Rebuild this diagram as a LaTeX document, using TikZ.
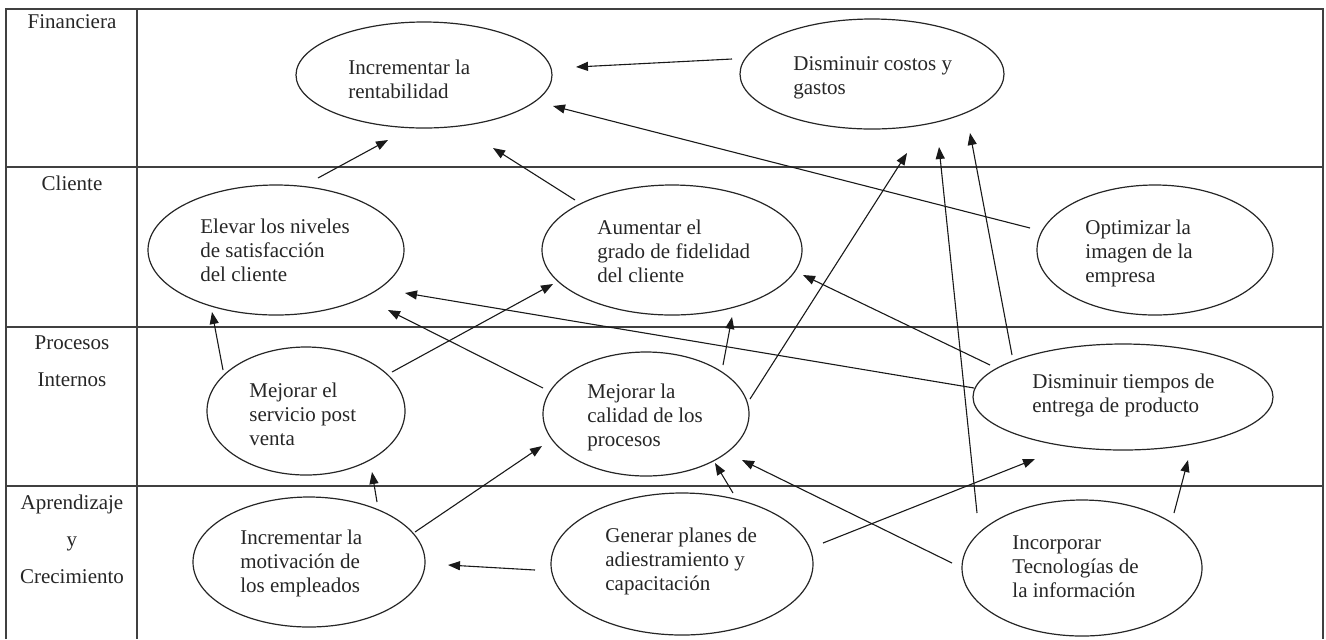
\documentclass[tikz,border=0pt]{standalone}
\usepackage{fontspec}
\setmainfont{Liberation Serif}
\usetikzlibrary{arrows.meta,calc,shapes.geometric}
\begin{document}
\begin{tikzpicture}[x=0.5pt,y=-0.5pt,
  ell/.style={draw=black!85,line width=0.6pt,ellipse,inner sep=0pt},
  txt/.style={anchor=west,align=left,inner sep=0pt,font=\fontsize{10.5}{12}\selectfont,text=black!85},
  lbl/.style={align=center,inner sep=0pt,font=\fontsize{10.5}{18.5}\selectfont,text=black!85},
  grid/.style={draw=black!75,line width=0.9pt},
  arr/.style={draw=black!90,line width=0.55pt,-{Triangle[length=6pt,width=4.5pt]}}]
\useasboundingbox (0,0) rectangle (1326,639);
% table
\coordinate (tl) at (6,9);
\coordinate (tr) at (1323,9);
\coordinate (bl) at (6,639);
\coordinate (br) at (1323,639);
\coordinate (ct) at (137,9);
\coordinate (cb) at (137,639);
\draw[grid] (bl) -- (tl) -- (tr) -- (br);
\draw[grid] (ct) -- (cb);
\foreach \yy in {167,327,486}{\draw[grid] (6,\yy) -- (1323,\yy);}
% row labels
\node[lbl] (lfin) at (72,22) {Financiera};
\node[lbl] (lcli) at (72,183) {Cliente};
\node[lbl] (lpro) at (72,361) {Procesos\\Internos};
\node[lbl] (lapr) at (72,539) {Aprendizaje\\y\\Crecimiento};
% ellipses (sizes in pt = pixels/2)
\node[ell,minimum width=128pt,minimum height=53pt] (rent) at (424,75) {};
\node[ell,minimum width=132pt,minimum height=55pt] (costos) at (872,74) {};
\node[ell,minimum width=128pt,minimum height=65pt] (elevar) at (276,250) {};
\node[ell,minimum width=130pt,minimum height=65pt] (aumentar) at (672,250) {};
\node[ell,minimum width=118pt,minimum height=65pt] (optim) at (1155,250) {};
\node[ell,minimum width=99pt,minimum height=64pt] (servicio) at (306,411) {};
\node[ell,minimum width=103pt,minimum height=62pt] (calidad) at (646,414) {};
\node[ell,minimum width=150pt,minimum height=53pt] (tiempos) at (1123,397) {};
\node[ell,minimum width=116pt,minimum height=65pt] (motiv) at (309,562) {};
\node[ell,minimum width=131pt,minimum height=71pt] (generar) at (682,564) {};
\node[ell,minimum width=120pt,minimum height=68pt] (incorp) at (1082,568) {};
% texts
\node[txt] (trent) at (348,79) {Incrementar la\\rentabilidad};
\node[txt] (tcostos) at (793,78) {Disminuir costos y\\gastos};
\node[txt] (televar) at (200,250) {Elevar los niveles\\de satisfacción\\del cliente};
\node[txt] (taumentar) at (597,251) {Aumentar el\\grado de fidelidad\\del cliente};
\node[txt] (toptim) at (1085,253) {Optimizar la\\imagen de la\\empresa};
\node[txt] (tservicio) at (249,414) {Mejorar el\\servicio post\\venta};
\node[txt] (tcalidad) at (587,417) {Mejorar la\\calidad de los\\procesos};
\node[txt] (ttiempos) at (1032,395) {Disminuir tiempos de\\entrega de producto};
\node[txt] (tmotiv) at (240,563) {Incrementar la\\motivación de\\los empleados};
\node[txt] (tgenerar) at (605,561) {Generar planes de\\adiestramiento y\\capacitación};
\node[txt] (tincorp) at (1012,567) {Incorporar\\Tecnologías de\\la información};
% connectors
\draw[arr] ($(elevar)+(42,-72)$) -- ($(rent)+(-36,65)$);
\draw[arr] ($(aumentar)+(-97,-50)$) -- ($(rent)+(69,73)$);
\draw[arr] ($(costos)+(-140,-15)$) -- ($(rent)+(152,-8)$);
\draw[arr] ($(optim)+(-125,-22)$) -- ($(rent)+(129,31)$);
\draw[arr] ($(calidad)+(104,-15)$) -- ($(costos)+(35,79)$);
\draw[arr] ($(incorp)+(-105,-55)$) -- ($(costos)+(67,73)$);
\draw[arr] ($(tiempos)+(-111,-42)$) -- ($(costos)+(98,59)$);
\draw[arr] ($(servicio)+(-83,-41)$) -- ($(elevar)+(-64,62)$);
\draw[arr] ($(servicio)+(86,-39)$) -- ($(aumentar)+(-119,34)$);
\draw[arr] ($(calidad)+(-103,-26)$) -- ($(elevar)+(112,60)$);
\draw[arr] ($(tiempos)+(-149,-9)$) -- ($(elevar)+(129,43)$);
\draw[arr] ($(calidad)+(77,-49)$) -- ($(aumentar)+(60,67)$);
\draw[arr] ($(tiempos)+(-133,-32)$) -- ($(aumentar)+(131,25)$);
\draw[arr] ($(motiv)+(68,-60)$) -- ($(servicio)+(66,61)$);
\draw[arr] ($(motiv)+(106,-30)$) -- ($(calidad)+(-104,32)$);
\draw[arr] ($(generar)+(-147,6)$) -- ($(motiv)+(139,3)$);
\draw[arr] ($(generar)+(51,-71)$) -- ($(calidad)+(69,49)$);
\draw[arr] ($(generar)+(141,-21)$) -- ($(tiempos)+(-88,62)$);
\draw[arr] ($(incorp)+(-130,-5)$) -- ($(calidad)+(96,46)$);
\draw[arr] ($(incorp)+(92,-55)$) -- ($(tiempos)+(65,63)$);
\end{tikzpicture}
\end{document}
